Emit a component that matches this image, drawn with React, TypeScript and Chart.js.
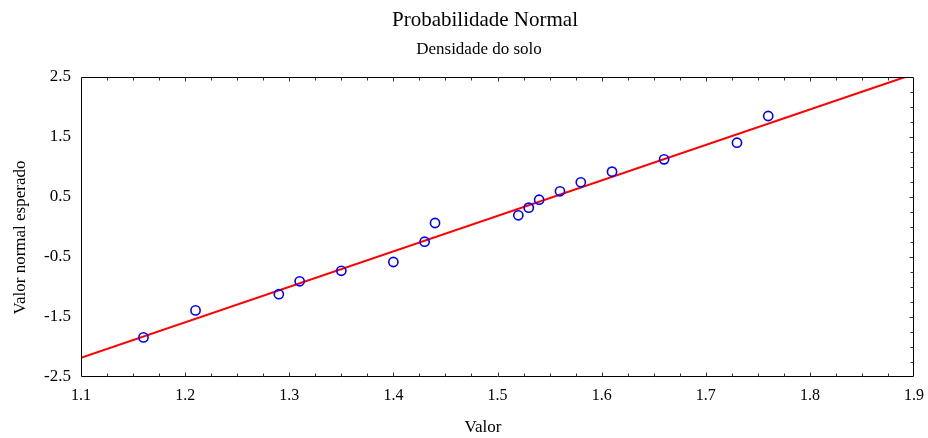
import React, { useEffect, useRef } from "react";
import { Chart, registerables } from "chart.js";

Chart.register(...registerables);

// ---- Data ----
const valores = [1.16, 1.21, 1.29, 1.31, 1.35, 1.4, 1.43, 1.44, 1.52, 1.53, 1.54, 1.56, 1.58, 1.61, 1.66, 1.73, 1.76];
const esperados = [-1.84, -1.39, -1.12, -0.905, -0.73, -0.583, -0.245, 0.067, 0.195, 0.322, 0.455, 0.595, 0.745, 0.922, 1.128, 1.405, 1.85];
const retaX = [1.1, 1.8915];
const retaY = [-2.18, 2.5];
const xTicks = [1.1, 1.2, 1.3, 1.4, 1.5, 1.6, 1.7, 1.8, 1.9];
const yTicks = [-2.5, -1.5, -0.5, 0.5, 1.5, 2.5];
const xMinorStep = 0.025;
const yMinorStep = 0.25;
const titulo = "Probabilidade Normal";
const subtitulo = "Densidade do solo";
const xTitulo = "Valor";
const yTitulo = "Valor normal esperado";

const FONT = "'Liberation Serif', 'Times New Roman', serif";

const framePlugin = {
  id: "frameAndTexts",
  afterDatasetsDraw(chart: any) {
    const { ctx, chartArea, scales } = chart;
    const { left, right, top, bottom } = chartArea;
    const xs = scales.x;
    const ys = scales.y;
    ctx.save();
    // frame
    ctx.strokeStyle = "#000";
    ctx.lineWidth = 1;
    const L = Math.round(left) + 0.5;
    const R = Math.round(right) - 0.5;
    const T = Math.round(top) + 0.5;
    const B = Math.round(bottom) - 0.5;
    ctx.beginPath();
    ctx.rect(L, T, R - L, B - T);
    ctx.stroke();
    // ticks
    ctx.strokeStyle = "#333";
    ctx.beginPath();
    const nx = Math.round((xs.max - xs.min) / xMinorStep);
    for (let k = 1; k < nx; k++) {
      const v = xs.min + k * xMinorStep;
      const px = Math.round(xs.getPixelForValue(v)) + 0.5;
      const len = k % 4 === 0 ? 4 : 3;
      ctx.moveTo(px, B);
      ctx.lineTo(px, B - len);
      ctx.moveTo(px, T);
      ctx.lineTo(px, T + len);
    }
    const ny = Math.round((ys.max - ys.min) / yMinorStep);
    for (let k = 1; k < ny; k++) {
      const v = ys.min + k * yMinorStep;
      const py = Math.round(ys.getPixelForValue(v)) + 0.5;
      const len = k % 4 === 0 ? 4 : 3;
      ctx.moveTo(R, py);
      ctx.lineTo(R - len, py);
    }
    ctx.stroke();

    // texts
    ctx.fillStyle = "#000";
    ctx.textAlign = "center";
    ctx.textBaseline = "alphabetic";
    ctx.font = `21px ${FONT}`;
    ctx.fillText(titulo, 485, 25.5);
    ctx.font = `17px ${FONT}`;
    ctx.fillText(subtitulo, 479, 54);
    ctx.fillText(xTitulo, 483, 432);
    ctx.save();
    ctx.translate(25, 237.5);
    ctx.rotate(-Math.PI / 2);
    ctx.fillText(yTitulo, 0, 0);
    ctx.restore();
    ctx.restore();
  },
};

export default function App() {
  const ref = useRef<HTMLCanvasElement | null>(null);
  useEffect(() => {
    if (!ref.current) return;
    const chart = new Chart(ref.current, {
      type: "scatter",
      data: {
        datasets: [
          {
            label: "Pontos",
            data: valores.map((v, i) => ({ x: v, y: esperados[i] })),
            pointRadius: 4.6,
            pointHoverRadius: 4.6,
            pointBorderWidth: 1.6,
            borderColor: "#0000ff",
            backgroundColor: "rgba(0,0,0,0)",
            pointStyle: "circle",
            showLine: false,
            order: 1,
          },
          {
            label: "Reta",
            type: "line",
            data: retaX.map((v, i) => ({ x: v, y: retaY[i] })),
            borderColor: "#ff0000",
            borderWidth: 2,
            pointRadius: 0,
            fill: false,
            order: 2,
          } as any,
        ],
      },
      options: {
        responsive: false,
        animation: false,
        events: [],
        layout: { padding: { top: 77, right: 14, left: 0, bottom: 0 } },
        plugins: {
          legend: { display: false },
          tooltip: { enabled: false },
          title: { display: false },
        },
        scales: {
          x: {
            type: "linear",
            min: 1.1,
            max: 1.9,
            grid: { display: false, drawTicks: false },
            border: { display: false },
            afterBuildTicks: (s: any) => {
              s.ticks = xTicks.map((v) => ({ value: v }));
            },
            afterFit: (s: any) => {
              s.height = 61;
              s.paddingLeft = 0;
              s.paddingRight = 0;
            },
            ticks: {
              color: "#000",
              font: { family: FONT, size: 16 },
              padding: 9,
              maxRotation: 0,
              autoSkip: false,
              callback: (v: any) => Number(v).toFixed(1),
            },
          },
          y: {
            type: "linear",
            min: -2.5,
            max: 2.5,
            grid: { display: false, drawTicks: false },
            border: { display: false },
            afterBuildTicks: (s: any) => {
              s.ticks = yTicks.map((v) => ({ value: v }));
            },
            afterFit: (s: any) => {
              s.width = 81;
              s.paddingTop = 0;
              s.paddingBottom = 0;
            },
            ticks: {
              color: "#000",
              font: { family: FONT, size: 17 },
              padding: 10,
              autoSkip: false,
              callback: (v: any) => Number(v).toFixed(1),
            },
          },
        },
      },
      plugins: [framePlugin],
    });
    return () => chart.destroy();
  }, []);
  return (
    <div style={{ position: "absolute", left: 0, top: 0, width: 928, height: 438, background: "#fff" }}>
      <canvas ref={ref} width={928} height={438} style={{ display: "block", width: 928, height: 438 }} />
    </div>
  );
}
